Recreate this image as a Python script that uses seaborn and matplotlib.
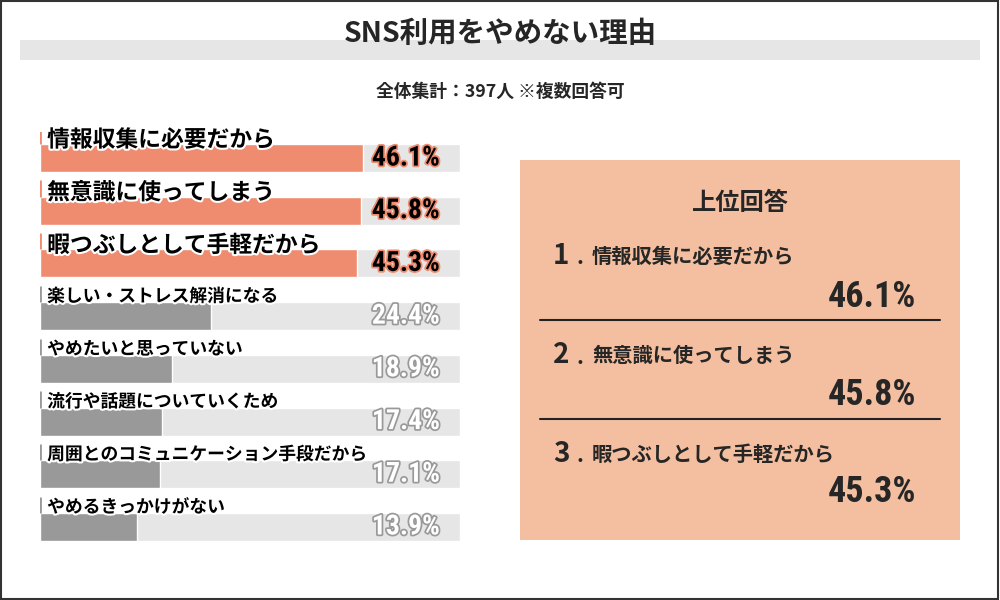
import matplotlib
matplotlib.use("Agg")
import matplotlib.pyplot as plt
import matplotlib.patheffects as pe
from matplotlib.patches import Rectangle
import seaborn as sns
import pandas as pd

# --- データ ---
title = "SNS利用をやめない理由"
subtitle = "全体集計：397人 ※複数回答可"
panel_title = "上位回答"
categories = [
    "情報収集に必要だから",
    "無意識に使ってしまう",
    "暇つぶしとして手軽だから",
    "楽しい・ストレス解消になる",
    "やめたいと思っていない",
    "流行や話題についていくため",
    "周囲とのコミュニケーション手段だから",
    "やめるきっかけがない",
]
values = [46.1, 45.8, 45.3, 24.4, 18.9, 17.4, 17.1, 13.9]
top_n = 3
scale_max = 60

# --- 色 ---
orange = "#EF8B6E"
gray = "#999999"
light = "#E6E6E6"
peach = "#F4BFA0"

sns.set_theme(style="white")
plt.rcParams["font.family"] = ["Noto Sans CJK JP", "DejaVu Sans"]
num_font = ["Roboto Condensed", "Noto Sans CJK JP"]

df = pd.DataFrame({"理由": categories, "割合": values})
df["区分"] = ["上位" if i < top_n else "その他" for i in range(len(df))]
df["全体"] = scale_max

fig = plt.figure(figsize=(10, 6), dpi=100)
fig.patch.set_facecolor("white")


def fx(x):
    return x / 1000


def fy(y):
    return 1 - y / 600


# 外枠とタイトル帯
fig.add_artist(Rectangle((0.001, 0.002), 0.997, 0.996, transform=fig.transFigure,
                         fill=False, edgecolor="#333333", linewidth=1.5))
fig.add_artist(Rectangle((fx(20), fy(60)), fx(960), 20 / 600, transform=fig.transFigure,
                         facecolor=light, edgecolor="none"))
fig.text(0.5, fy(34), title, ha="center", va="center", fontsize=20.5, fontweight="bold")
fig.text(0.5, fy(92), subtitle, ha="center", va="center", fontsize=12.8, fontweight="bold")

# --- 棒グラフ ---
ax = fig.add_axes([0.04, 0.0778, 0.42, 0.7027])
sns.barplot(data=df, y="理由", x="全体", color=light, saturation=1, width=0.53, ax=ax)
sns.barplot(data=df, y="理由", x="割合", hue="区分", palette={"上位": orange, "その他": gray},
            saturation=1, width=0.53, dodge=False, legend=False, ax=ax)
ax.set_xlim(0, scale_max)
ax.set_ylim(len(df) - 0.5, -0.5)
ax.axis("off")

for i, row in df.iterrows():
    top = row["区分"] == "上位"
    c = orange if top else gray
    ax.vlines(0, i - 0.265 - 0.31, i - 0.265, color=c, linewidth=2)
    ax.text(0.017, i - (0.34 if top else 0.37), row["理由"], transform=ax.get_yaxis_transform(),
            ha="left", va="center", fontsize=16.4 if top else 12.8, fontweight="bold",
            color="black", path_effects=[pe.withStroke(linewidth=3, foreground="white")])
    ax.text(0.952, i, f"{row['割合']}%", transform=ax.get_yaxis_transform(),
            ha="right", va="center", fontsize=20, fontweight="bold", family=num_font,
            color="black" if top else "white",
            path_effects=[pe.withStroke(linewidth=2.5, foreground=c)])

# --- 上位回答パネル ---
fig.add_artist(Rectangle((fx(520), fy(540)), fx(440), 380 / 600, transform=fig.transFigure,
                         facecolor=peach, edgecolor="none"))
fig.text(fx(740), fy(203), panel_title, ha="center", va="center", fontsize=17.5, fontweight="bold")

top_df = df.sort_values("割合", ascending=False).head(top_n).reset_index(drop=True)
label_y = [256, 355, 454]
pct_y = [297, 395, 492]
line_y = [320, 419]
for k, row in top_df.iterrows():
    fig.text(fx(553), fy(label_y[k]), f"{k + 1}", ha="left", va="center",
             fontsize=20, fontweight="bold")
    fig.text(fx(576), fy(label_y[k] + 2), ".", ha="left", va="center",
             fontsize=15, fontweight="bold")
    fig.text(fx(592), fy(label_y[k]), row["理由"], ha="left", va="center",
             fontsize=14.6, fontweight="bold")
    fig.text(fx(916), fy(pct_y[k]), f"{row['割合']}%", ha="right", va="center",
             fontsize=26, fontweight="bold", family=num_font)
for y in line_y:
    fig.add_artist(plt.Line2D([fx(540), fx(940)], [fy(y), fy(y)], transform=fig.transFigure,
                              color="#222222", linewidth=1.5))

fig.savefig("out.png", dpi=100)
